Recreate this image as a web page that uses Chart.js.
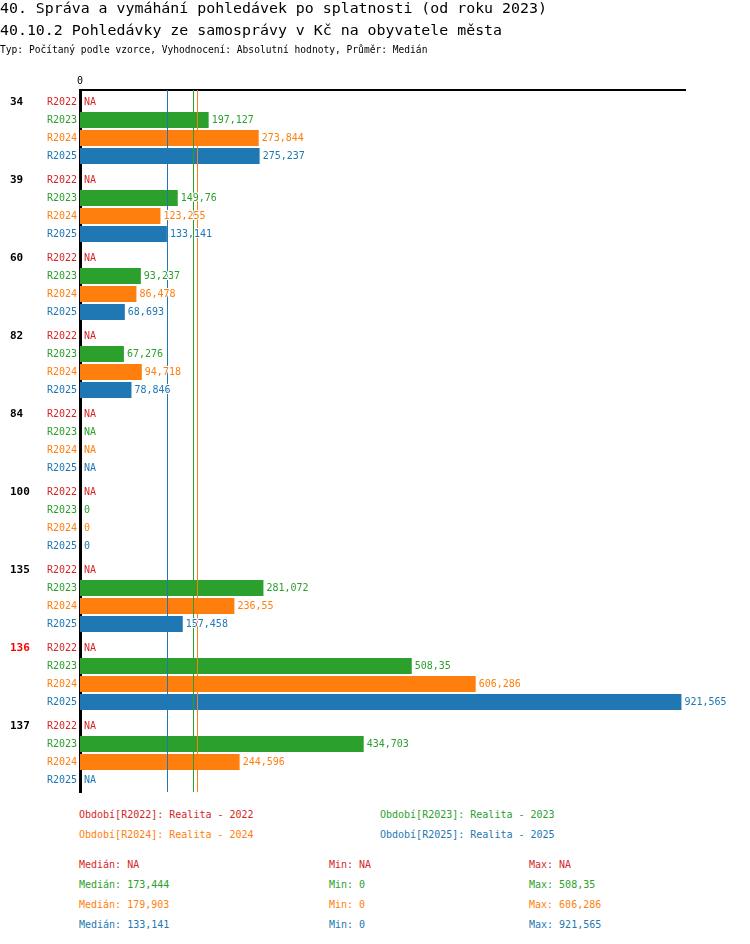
<!DOCTYPE html>
<html lang="cs">
<head>
    <meta charset="UTF-8">
    <title>Pohledávky ze samosprávy</title>
    <script src="https://cdn.jsdelivr.net/npm/chart.js"></script>
    <style>
        body { margin: 0; background: #fff; font-family: "DejaVu Sans Mono", monospace; }
        #wrap { position: relative; width: 750px; height: 944px; }
        .t { position: absolute; white-space: pre; }
        #chart { position: absolute; left: 0; top: 0; }
    </style>
</head>
<body>
<div id="wrap">
    <canvas id="chart" width="750" height="800"></canvas>
    <div class="t" style="left:0;top:-1px;font-size:14.9px;">40. Správa a vymáhání pohledávek po splatnosti (od roku 2023)</div>
    <div class="t" style="left:0;top:21px;font-size:14.9px;">40.10.2 Pohledávky ze samosprávy v Kč na obyvatele města</div>
    <div class="t" style="left:0;top:44px;font-size:9.6px;">Typ: Počítaný podle vzorce, Vyhodnocení: Absolutní hodnoty, Průměr: Medián</div>
    <div id="legend"></div>
</div>

<script>
// categories (obce) and periods
const categories = ['34', '39', '60', '82', '84', '100', '135', '136', '137'];
const highlighted = '136';
const periods = ['R2022', 'R2023', 'R2024', 'R2025'];
const periodNames = ['Realita - 2022', 'Realita - 2023', 'Realita - 2024', 'Realita - 2025'];
const colors = ['#d62728', '#2ca02c', '#ff7f0e', '#1f77b4'];

// values per period, null = NA
const r2022 = [null, null, null, null, null, null, null, null, null];
const r2023 = [197.127, 149.76, 93.237, 67.276, null, 0, 281.072, 508.35, 434.703];
const r2024 = [273.844, 123.255, 86.478, 94.718, null, 0, 236.55, 606.286, 244.596];
const r2025 = [275.237, 133.141, 68.693, 78.846, null, 0, 157.458, 921.565, null];

// summary stats per period
const medians = [null, 173.444, 179.903, 133.141];
const mins = [null, 0, 0, 0];
const maxs = [null, 508.35, 606.286, 921.565];

const xMax = 927;
const series = [r2022, r2023, r2024, r2025];

function fmt(v) {
    return v === null ? 'NA' : String(v).replace('.', ',');
}

const font = '"DejaVu Sans Mono", monospace';

const overlay = {
    id: 'overlay',
    afterDatasetsDraw(chart) {
        const ctx = chart.ctx;
        const xs = chart.scales.x;
        const area = chart.chartArea;

        // median lines
        ctx.save();
        medians.forEach((m, i) => {
            if (m === null) return;
            const x = Math.round(xs.getPixelForValue(m));
            ctx.fillStyle = colors[i];
            ctx.fillRect(x, area.top, 1, area.bottom - area.top);
        });
        ctx.restore();

        ctx.save();
        ctx.textBaseline = 'middle';
        // zero tick
        ctx.font = '10px ' + font;
        ctx.fillStyle = '#000';
        ctx.textAlign = 'center';
        ctx.fillText('0', xs.getPixelForValue(0), area.top - 9);

        series.forEach((data, d) => {
            const meta = chart.getDatasetMeta(d);
            data.forEach((v, i) => {
                const bar = meta.data[i];
                const y = bar.y;
                // row label on the left
                ctx.font = '10px ' + font;
                ctx.textAlign = 'right';
                ctx.fillStyle = colors[d];
                ctx.fillText(periods[d], area.left - 3, y);
                // value label
                const x = (v === null || v === 0) ? xs.getPixelForValue(0) + 4 : bar.x + 3;
                ctx.textAlign = 'left';
                ctx.strokeStyle = '#fff';
                ctx.lineWidth = 2;
                ctx.strokeText(fmt(v), x, y);
                ctx.fillText(fmt(v), x, y);
                // category label
                if (d === 0) {
                    ctx.font = 'bold 11px ' + font;
                    ctx.fillStyle = categories[i] === highlighted ? '#ff0000' : '#000';
                    ctx.fillText(categories[i], 10, y);
                }
            });
        });
        ctx.restore();
    }
};

new Chart(document.getElementById('chart'), {
    type: 'bar',
    data: {
        labels: categories,
        datasets: series.map((data, d) => ({
            label: periods[d],
            data: data,
            backgroundColor: colors[d],
            borderWidth: 0,
            categoryPercentage: 72 / 78,
            barPercentage: 16 / 18
        }))
    },
    options: {
        indexAxis: 'y',
        responsive: false,
        animation: false,
        layout: { padding: { left: 80, right: 65, top: 90, bottom: 8 } },
        plugins: { legend: { display: false }, tooltip: { enabled: false } },
        scales: {
            x: {
                position: 'top',
                min: 0,
                max: xMax,
                grid: { display: false },
                ticks: { display: false },
                border: { color: '#000', width: 2 },
                afterFit(scale) { scale.height = 0; }
            },
            y: {
                grid: { display: false },
                ticks: { display: false },
                border: { color: '#000', width: 3 },
                afterFit(scale) { scale.width = 0; }
            }
        }
    },
    plugins: [overlay]
});

// legend and stats below the chart
const legend = document.getElementById('legend');
function addText(txt, x, y, color) {
    const el = document.createElement('div');
    el.className = 't';
    el.style.left = x + 'px';
    el.style.top = y + 'px';
    el.style.fontSize = '10px';
    el.style.color = color;
    el.textContent = txt;
    legend.appendChild(el);
}
periods.forEach((p, i) => {
    const x = i % 2 === 0 ? 79 : 380;
    const y = 809 + Math.floor(i / 2) * 20;
    addText('Období[' + p + ']: ' + periodNames[i], x, y, colors[i]);
});
periods.forEach((p, i) => {
    const y = 859 + i * 20;
    addText('Medián: ' + fmt(medians[i]), 79, y, colors[i]);
    addText('Min: ' + fmt(mins[i]), 329, y, colors[i]);
    addText('Max: ' + fmt(maxs[i]), 529, y, colors[i]);
});
</script>
</body>
</html>
